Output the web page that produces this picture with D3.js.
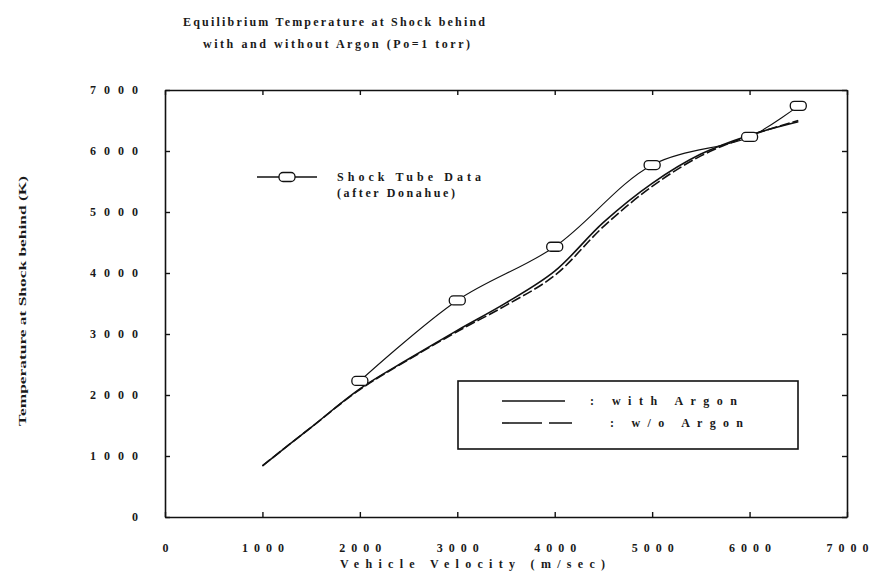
<!DOCTYPE html>
<meta charset="utf-8">
<style>
body { margin: 0; background: #fff; }
text { font-family: "Liberation Serif", "DejaVu Serif", serif; font-weight: bold; fill: #1a1a1a; }
</style>
<body>
<script src="https://d3js.org/d3.v7.min.js"></script>
<script>

// computed curves (velocity in m/sec, temperature in K)
var velocity = [1000, 1500, 2000, 2500, 3000, 3500, 4000, 4500, 5000, 5500, 6000, 6500];
var tempWithArgon = [840, 1470, 2100, 2590, 3060, 3510, 4030, 4830, 5470, 5950, 6260, 6480];
var tempWithoutArgon = [840, 1470, 2090, 2580, 3040, 3470, 3960, 4760, 5420, 5920, 6250, 6500];

// shock tube data (after Donahue)
var shockVelocity = [2000, 3000, 4000, 5000, 6000, 6500];
var shockTemp = [2230, 3550, 4430, 5770, 6230, 6740];

var xTicks = [0, 1000, 2000, 3000, 4000, 5000, 6000, 7000];
var yTicks = [0, 1000, 2000, 3000, 4000, 5000, 6000, 7000];

var width = 872, height = 577;

var svg = d3.select("body")
  .append("svg")
    .attr("width", width)
    .attr("height", height);

var x = d3.scaleLinear().domain([0, 7000]).range([165, 847]);
var y = d3.scaleLinear().domain([0, 7000]).range([517, 90]);

// spread labels the way the old plot did
function spread(sel, w) {
  sel.attr("textLength", function() {
      return this.textContent.length > 1 ? w : null;
    })
    .attr("lengthAdjust", "spacing");
}

// axes, ticks pointing inward
var fmt = d3.format("d");
var bottom = svg.append("g")
  .attr("transform", "translate(0," + y(0) + ")")
  .call(d3.axisBottom(x).tickValues(xTicks).tickFormat(fmt).tickSizeInner(-5).tickSizeOuter(0).tickPadding(26));
var left = svg.append("g")
  .attr("transform", "translate(" + x(0) + ",0)")
  .call(d3.axisLeft(y).tickValues(yTicks).tickFormat(fmt).tickSizeInner(-5).tickSizeOuter(0).tickPadding(27));
svg.append("g")
  .attr("transform", "translate(0," + y(7000) + ")")
  .call(d3.axisTop(x).tickValues(xTicks).tickSizeInner(-5).tickSizeOuter(0).tickFormat(""));
svg.append("g")
  .attr("transform", "translate(" + x(7000) + ",0)")
  .call(d3.axisRight(y).tickValues(yTicks).tickSizeInner(-5).tickSizeOuter(0).tickFormat(""));

svg.selectAll(".domain").attr("stroke", "#111").attr("stroke-width", 1.6);
svg.selectAll(".tick line").attr("stroke", "#111").attr("stroke-width", 1.4);
svg.selectAll(".tick text")
  .style("font-size", "12px")
  .attr("fill", "#1a1a1a");
bottom.selectAll(".tick text").call(spread, 42);
left.selectAll(".tick text").call(spread, 48);

// titles
svg.append("text")
  .attr("x", 183).attr("y", 26)
  .attr("textLength", 302).attr("lengthAdjust", "spacing")
  .style("font-size", "12px")
  .text("Equilibrium Temperature at Shock behind");
svg.append("text")
  .attr("x", 203).attr("y", 48)
  .attr("textLength", 267).attr("lengthAdjust", "spacing")
  .style("font-size", "12px")
  .text("with and without Argon (Po=1 torr)");

svg.append("text")
  .attr("x", 340).attr("y", 568)
  .attr("textLength", 265).attr("lengthAdjust", "spacing")
  .style("font-size", "12px")
  .text("Vehicle Velocity (m/sec)");

svg.append("text")
  .attr("transform", "translate(26,301) rotate(-90)")
  .attr("text-anchor", "middle")
  .attr("textLength", 250).attr("lengthAdjust", "spacingAndGlyphs")
  .style("font-size", "11px")
  .text("Temperature at Shock behind (K)");

// computed curves
var withArgon = velocity.map(function(v, i) { return {v: v, t: tempWithArgon[i]}; });
var withoutArgon = velocity.map(function(v, i) { return {v: v, t: tempWithoutArgon[i]}; });
var shock = shockVelocity.map(function(v, i) { return {v: v, t: shockTemp[i]}; });

var line = d3.line()
  .x(function(d) { return x(d.v); })
  .y(function(d) { return y(d.t); })
  .curve(d3.curveCatmullRom);

svg.append("path")
  .attr("d", line(withArgon))
  .attr("fill", "none")
  .attr("stroke", "#111")
  .attr("stroke-width", 1.6);
svg.append("path")
  .attr("d", line(withoutArgon))
  .attr("fill", "none")
  .attr("stroke", "#111")
  .attr("stroke-width", 1.6)
  .attr("stroke-dasharray", "10,3");

// shock tube data
svg.append("path")
  .attr("d", line(shock))
  .attr("fill", "none")
  .attr("stroke", "#111")
  .attr("stroke-width", 1.1);
svg.selectAll("shockPts")
  .data(shock)
  .enter()
  .append("rect")
    .attr("x", function(d) { return x(d.v) - 8; })
    .attr("y", function(d) { return y(d.t) - 4.5; })
    .attr("width", 16).attr("height", 9).attr("rx", 4)
    .attr("fill", "#fff")
    .attr("stroke", "#111")
    .attr("stroke-width", 1.3);

// legend: shock tube data
svg.append("line")
  .attr("x1", 257).attr("x2", 317).attr("y1", 177).attr("y2", 177)
  .attr("stroke", "#111").attr("stroke-width", 1.4);
svg.append("rect")
  .attr("x", 279).attr("y", 172.5).attr("width", 16).attr("height", 9).attr("rx", 4)
  .attr("fill", "#fff").attr("stroke", "#111").attr("stroke-width", 1.3);
svg.append("text")
  .attr("x", 337).attr("y", 181)
  .attr("textLength", 144).attr("lengthAdjust", "spacing")
  .style("font-size", "12px")
  .text("Shock Tube Data");
svg.append("text")
  .attr("x", 337).attr("y", 197)
  .attr("textLength", 118).attr("lengthAdjust", "spacing")
  .style("font-size", "12px")
  .text("(after Donahue)");

// legend: curves
svg.append("rect")
  .attr("x", 458).attr("y", 381).attr("width", 340).attr("height", 68)
  .attr("fill", "#fff").attr("stroke", "#111").attr("stroke-width", 1.6);
svg.append("line")
  .attr("x1", 502).attr("x2", 565).attr("y1", 401).attr("y2", 401)
  .attr("stroke", "#111").attr("stroke-width", 1.6);
svg.append("line")
  .attr("x1", 502).attr("x2", 572).attr("y1", 423).attr("y2", 423)
  .attr("stroke", "#111").attr("stroke-width", 1.6)
  .attr("stroke-dasharray", "40,7");
svg.append("text")
  .attr("x", 590).attr("y", 405)
  .attr("textLength", 147).attr("lengthAdjust", "spacing")
  .style("font-size", "12px")
  .text(": with Argon");
svg.append("text")
  .attr("x", 610).attr("y", 427)
  .attr("textLength", 133).attr("lengthAdjust", "spacing")
  .style("font-size", "12px")
  .text(": w/o Argon");

</script>
</body>
